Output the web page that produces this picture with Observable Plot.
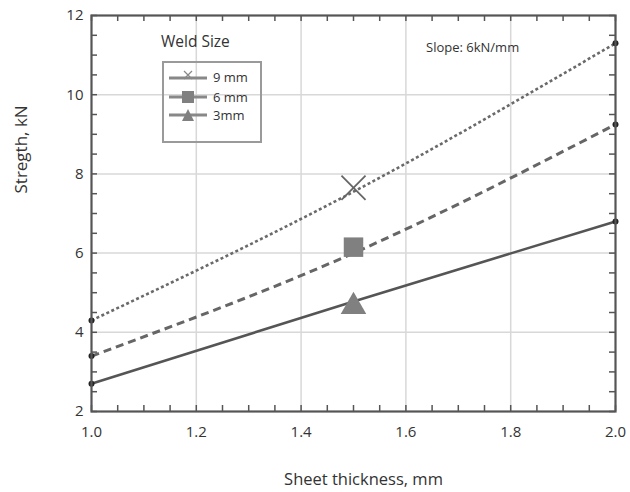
<!DOCTYPE html>
<html>
<head>
<meta charset="utf-8">
<script src="https://cdn.jsdelivr.net/npm/d3@7"></script>
<script src="https://cdn.jsdelivr.net/npm/@observablehq/plot@0.6"></script>
<style>
  html, body { margin: 0; padding: 0; background: #fff; }
  #wrap { position: relative; width: 630px; height: 492px; font-family: "Open Sans", sans-serif; }
  #legend { position: absolute; left: 162px; top: 61px; width: 100px; height: 82px; border: 2px solid #9a9a9a; box-sizing: border-box; }
  #legendTitle { position: absolute; left: 161px; top: 30px; font-size: 15.5px; color: #333; }
  #slope { position: absolute; left: 426px; top: 38px; font-size: 13px; color: #333; }
  .row { position: absolute; left: 5px; height: 18px; display: flex; align-items: center; font-size: 13px; color: #333; }
  .row svg { margin-right: 6px; }
</style>
</head>
<body>
<div id="wrap">
  <div id="chart"></div>
  <div id="legendTitle">Weld Size</div>
  <div id="legend"></div>
  <div id="slope">Slope: 6kN/mm</div>
</div>
<script>
const thickness = [1.0, 1.5, 2.0];
const series = ["9 mm", "6 mm", "3mm"];
const strength9 = [4.3, 7.55, 11.3];
const strength6 = [3.4, 6.0, 9.25];
const strength3 = [2.7, 4.78, 6.8];
const markerX = 1.5;
const markerValues = [7.65, 6.15, 4.65];
const xTicks = [1.0, 1.2, 1.4, 1.6, 1.8, 2.0];
const yTicks = [2, 4, 6, 8, 10, 12];

const seriesValues = [strength9, strength6, strength3];
const dashes = ["3,2.5", "8,5", null];
const widths = [2.6, 3, 2.6];
const colors = ["#6a6a6a", "#666", "#555"];

const lineData = series.flatMap((s, i) => thickness.map((t, j) => ({series: s, x: t, y: seriesValues[i][j]})));
const endData = lineData.filter(d => d.x !== 1.5);
const markData = series.map((s, i) => ({series: s, x: markerX, y: markerValues[i]}));

const xDom = [xTicks[0], xTicks[xTicks.length - 1]];
const yDom = [yTicks[0], yTicks[yTicks.length - 1]];
const minorX = d3.range(0, 21).map(i => xDom[0] + i * (xDom[1] - xDom[0]) / 20);
const minorY = d3.range(0, 21).map(i => yDom[0] + i * (yDom[1] - yDom[0]) / 20);

const W = 630, H = 492, ML = 91, MR = 15, MT = 15, MB = 81;
const PW = W - ML - MR, PH = H - MT - MB;
const TL = 6;
const dyTick = (yDom[1] - yDom[0]) * TL / PH;
const dxTick = (xDom[1] - xDom[0]) * TL / PW;

const lineMarks = series.map((s, i) => Plot.line(lineData.filter(d => d.series === s), {
  x: "x", y: "y", curve: "natural", stroke: colors[i], strokeWidth: widths[i],
  strokeDasharray: dashes[i], strokeLinecap: "butt"
}));

const tickStyle = {stroke: "#555", strokeWidth: 1.5};

const chart = Plot.plot({
  width: W,
  height: H,
  marginLeft: ML,
  marginRight: MR,
  marginTop: MT,
  marginBottom: MB,
  style: {fontFamily: "Open Sans, sans-serif", fontSize: "15px", color: "#333", background: "#fff"},
  x: {domain: xDom},
  y: {domain: yDom},
  marks: [
    Plot.gridX(xTicks.slice(1, -1), {stroke: "#d8d8d8", strokeOpacity: 1, strokeWidth: 1.5}),
    Plot.gridY(yTicks.slice(1, -1), {stroke: "#d8d8d8", strokeOpacity: 1, strokeWidth: 1.5}),
    Plot.axisX({ticks: xTicks, tickFormat: d3.format(".1f"), tickSize: 0, tickPadding: 15, label: null, fontSize: 15}),
    Plot.axisY({ticks: yTicks, tickSize: 0, tickPadding: 8, label: null, fontSize: 15}),
    Plot.ruleX(minorX, {x: d => d, y1: yDom[0], y2: yDom[0] + dyTick, ...tickStyle}),
    Plot.ruleX(minorX, {x: d => d, y1: yDom[1], y2: yDom[1] - dyTick, ...tickStyle}),
    Plot.ruleY(minorY, {y: d => d, x1: xDom[0], x2: xDom[0] + dxTick, ...tickStyle}),
    Plot.ruleY(minorY, {y: d => d, x1: xDom[1], x2: xDom[1] - dxTick, ...tickStyle}),
    ...lineMarks,
    Plot.dot(endData, {x: "x", y: "y", r: 3, fill: "#222"}),
    Plot.dot(markData.filter(d => d.series === "9 mm"), {x: "x", y: "y", symbol: "times", r: 11, stroke: "#666", strokeWidth: 1.8}),
    Plot.dot(markData.filter(d => d.series === "6 mm"), {x: "x", y: "y", symbol: "square", r: 11, fill: "#808080"}),
    Plot.dot(markData.filter(d => d.series === "3mm"), {x: "x", y: "y", symbol: "triangle", r: 9.5, fill: "#808080"}),
    Plot.frame({stroke: "#555", strokeWidth: 2.2}),
    Plot.text(["Stregth, kN"], {frameAnchor: "left", dx: -70, dy: -20, rotate: -90, fontSize: 17, fill: "#333"}),
    Plot.text(["Sheet thickness, mm"], {frameAnchor: "bottom", dx: 10, dy: 73, fontSize: 16.5, fill: "#333"})
  ]
});
document.getElementById("chart").appendChild(chart);

// legend
const legend = document.getElementById("legend");
const symbolSvg = [
  `<line x1="0" y1="8" x2="38" y2="8" stroke="#888" stroke-width="3"/><path d="M15,1 L23,9 M23,1 L15,9" stroke="#888" stroke-width="1.2"/>`,
  `<line x1="0" y1="7" x2="38" y2="7" stroke="#888" stroke-width="3"/><rect x="13" y="1" width="12" height="12" fill="#808080"/>`,
  `<line x1="0" y1="7" x2="38" y2="7" stroke="#888" stroke-width="3"/><path d="M19,1 L25,13 L13,13 Z" fill="#808080"/>`
];
const rowTops = [5, 25, 43];
series.forEach((s, i) => {
  const row = document.createElement("div");
  row.className = "row";
  row.style.top = rowTops[i] + "px";
  row.innerHTML = `<svg width="38" height="14">${symbolSvg[i]}</svg><span>${s}</span>`;
  legend.appendChild(row);
});
</script>
</body>
</html>
